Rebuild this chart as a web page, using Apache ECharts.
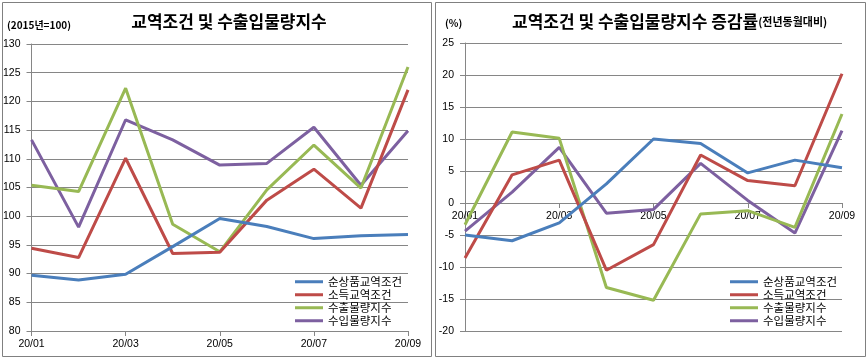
<!DOCTYPE html>
<html>
<head>
<meta charset="utf-8">
<script src="https://cdn.jsdelivr.net/npm/echarts@6/dist/echarts.min.js"></script>
<style>
html,body{margin:0;padding:0;background:#fff;}
#c{width:868px;height:360px;}
</style>
</head>
<body>
<div id="c"></div>
<script>
// ---- data ----
var categories = ['20/01','20/02','20/03','20/04','20/05','20/06','20/07','20/08','20/09'];
var seriesNames = ['순상품교역조건','소득교역조건','수출물량지수','수입물량지수'];

// Left: index (2015=100)
var idxNetBarter = [89.7, 88.9, 89.9, 94.7, 99.6, 98.2, 96.1, 96.6, 96.8];
var idxIncome    = [94.4, 92.8, 110.1, 93.5, 93.7, 102.8, 108.2, 101.4, 122.0];
var idxExportVol = [105.4, 104.3, 122.3, 98.6, 93.8, 104.6, 112.4, 104.9, 126.0];
var idxImportVol = [113.3, 98.1, 116.8, 113.3, 108.9, 109.2, 115.5, 105.4, 114.9];

// Right: YoY change (%)
var chgNetBarter = [-5.0, -5.9, -3.1, 3.0, 10.0, 9.3, 4.7, 6.7, 5.5];
var chgIncome    = [-8.6, 4.4, 6.7, -10.5, -6.5, 7.5, 3.5, 2.7, 20.2];
var chgExportVol = [-3.4, 11.1, 10.1, -13.2, -15.2, -1.7, -1.2, -3.8, 13.9];
var chgImportVol = [-4.4, 1.7, 8.7, -1.6, -1.0, 6.2, 0.4, -4.7, 11.3];

var leftTicks  = {min: 80, max: 130, interval: 5};
var rightTicks = {min: -20, max: 25, interval: 5};

var colors = ['#4a7ebb', '#be4b48', '#98b954', '#7d60a0'];
var gridColor = '#868686';
var numFont = 'Liberation Sans';
var krFont = 'Noto Sans CJK KR';

var H = 360;
var gridL = {left: 31, right: 460, top: 44, bottom: 29};
var gridR = {left: 465, right: 26, top: 43, bottom: 29};
// move the right chart's category axis up to the value-axis zero line
var rPlotH = H - gridR.top - gridR.bottom;
var rZeroOffset = -((0 - rightTicks.min) / (rightTicks.max - rightTicks.min)) * rPlotH;

function mkSeries(name, data, idx, axisIdx) {
  return {
    name: name, type: 'line', data: data,
    xAxisIndex: axisIdx, yAxisIndex: axisIdx,
    symbol: 'none', smooth: false,
    lineStyle: {width: 3, color: colors[idx]},
    itemStyle: {color: colors[idx]},
    z: 10 - idx
  };
}

function xAxisCfg(gi, off) {
  return {
    type: 'category', gridIndex: gi, data: categories, boundaryGap: false,
    position: 'bottom', offset: off,
    axisLine: {onZero: false, lineStyle: {color: gridColor, width: 1}},
    axisTick: {show: true, interval: 1, length: 5, lineStyle: {color: gridColor}},
    axisLabel: {interval: 1, color: '#000', fontFamily: numFont, fontSize: 10.5, margin: 8},
    splitLine: {show: false}
  };
}
function yAxisCfg(gi, t) {
  return {
    type: 'value', gridIndex: gi, min: t.min, max: t.max, interval: t.interval,
    axisLine: {show: true, lineStyle: {color: gridColor, width: 1}},
    axisTick: {show: true, length: 5, lineStyle: {color: gridColor}},
    axisLabel: {color: '#000', fontFamily: numFont, fontSize: 10.5, margin: 11},
    splitLine: {show: true, lineStyle: {color: gridColor, width: 1}}
  };
}

var chart = echarts.init(document.getElementById('c'), null, {renderer: 'canvas'});
var legendText = {color: '#000', fontFamily: krFont, fontSize: 11.5};
chart.setOption({
  animation: false,
  backgroundColor: '#fff',
  grid: [gridL, gridR],
  xAxis: [xAxisCfg(0, 0), xAxisCfg(1, rZeroOffset)],
  yAxis: [yAxisCfg(0, leftTicks), yAxisCfg(1, rightTicks)],
  legend: [
    {data: seriesNames, orient: 'vertical', left: 290, top: 271, itemWidth: 28, itemHeight: 3,
     itemGap: 1.5, textStyle: legendText, icon: 'rect', selectedMode: false},
    {data: seriesNames, orient: 'vertical', left: 725, top: 271, itemWidth: 28, itemHeight: 3,
     itemGap: 1.5, textStyle: legendText, icon: 'rect', selectedMode: false}
  ],
  series: [
    mkSeries(seriesNames[0], idxNetBarter, 0, 0),
    mkSeries(seriesNames[1], idxIncome, 1, 0),
    mkSeries(seriesNames[2], idxExportVol, 2, 0),
    mkSeries(seriesNames[3], idxImportVol, 3, 0),
    mkSeries(seriesNames[0], chgNetBarter, 0, 1),
    mkSeries(seriesNames[1], chgIncome, 1, 1),
    mkSeries(seriesNames[2], chgExportVol, 2, 1),
    mkSeries(seriesNames[3], chgImportVol, 3, 1)
  ],
  graphic: [
    {type: 'rect', shape: {x: 2.5, y: 2.5, width: 429, height: 354}, style: {fill: 'none', stroke: '#808080', lineWidth: 1}, silent: true, z: -1},
    {type: 'rect', shape: {x: 435.5, y: 2.5, width: 430, height: 354}, style: {fill: 'none', stroke: '#808080', lineWidth: 1}, silent: true, z: -1},
    {type: 'text', x: 229, y: 22, style: {text: '교역조건 및 수출입물량지수', fontFamily: krFont, fontSize: 17, fontWeight: 'bold', fill: '#000', textAlign: 'center', textVerticalAlign: 'middle'}},
    {type: 'text', x: 7, y: 25, style: {text: '(2015년=100)', fontFamily: krFont, fontSize: 10, fontWeight: 'bold', fill: '#000', textAlign: 'left', textVerticalAlign: 'middle'}},
    {type: 'text', x: 512, y: 22, style: {
      text: '{a|교역조건 및 수출입물량지수 증감률}{b|(전년동월대비)}',
      rich: {
        a: {fontFamily: krFont, fontSize: 17, fontWeight: 'bold', fill: '#000', color: '#000'},
        b: {fontFamily: krFont, fontSize: 11, fontWeight: 'bold', fill: '#000', color: '#000'}
      },
      textAlign: 'left', textVerticalAlign: 'middle'}},
    {type: 'text', x: 445, y: 23, style: {text: '(%)', fontFamily: krFont, fontSize: 10, fontWeight: 'bold', fill: '#000', textAlign: 'left', textVerticalAlign: 'middle'}}
  ]
});
</script>
</body>
</html>
